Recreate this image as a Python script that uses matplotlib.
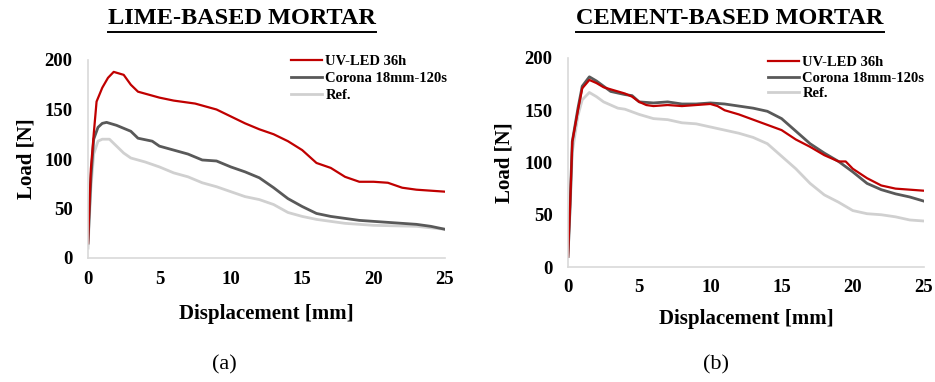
import numpy as np
import matplotlib
matplotlib.use("Agg")
import matplotlib.pyplot as plt
from matplotlib.lines import Line2D

plt.rcParams['font.family'] = ['Liberation Serif', 'DejaVu Serif']
plt.rcParams['font.weight'] = 'bold'

series_names = ["UV-LED 36h", "Corona 18mm-120s", "Ref."]
series_colors = ["#C00000", "#595959", "#D0D0D0"]
series_widths = [1.6, 2.0, 2.0]

# lime-based mortar (panel a)
lime_uv_x = [0, 0.2, 0.4, 0.6, 1.0, 1.4, 1.8, 2.5, 3.0, 3.5, 4.0, 5, 6, 7.5, 9, 10, 11, 12, 13,
             14, 15, 16, 17, 18, 19, 20, 21, 22, 23, 24, 25]
lime_uv_y = [15, 90, 125, 158, 172, 182, 188, 185, 175, 168, 166, 162, 159, 156, 150, 143, 136,
             130, 125, 118, 109, 96, 91, 82, 77, 77, 76, 71, 69, 68, 67]
lime_co_x = [0, 0.2, 0.4, 0.7, 1.0, 1.3, 2.0, 3.0, 3.5, 4.5, 5, 6, 7, 8, 9, 10, 11, 12, 13, 14,
             15, 16, 17, 18, 19, 20, 22, 23, 24, 25]
lime_co_y = [15, 80, 120, 132, 136, 137, 134, 128, 121, 118, 113, 109, 105, 99, 98, 92, 87, 81,
             71, 60, 52, 45, 42, 40, 38, 37, 35, 34, 32, 29]
lime_ref_x = [0, 0.2, 0.4, 0.7, 1.0, 1.5, 2.0, 2.5, 3.0, 4, 5, 6, 7, 8, 9, 10, 11, 12, 13, 14,
              15, 16, 17, 18, 20, 23, 25]
lime_ref_y = [10, 70, 105, 118, 120, 120, 113, 106, 101, 97, 92, 86, 82, 76, 72, 67, 62, 59,
              54, 46, 42, 39, 37, 35, 33, 32, 29]

# cement-based mortar (panel b)
cem_uv_x = [0, 0.15, 0.3, 0.7, 1.0, 1.5, 2.0, 2.5, 3, 4, 4.5, 5, 5.5, 6, 7, 8, 9, 10, 10.5, 11,
            12, 13, 14, 15, 16, 17, 18, 19, 19.5, 20, 21, 22, 23, 24, 25]
cem_uv_y = [10, 60, 120, 150, 171, 179, 176, 172, 170, 166, 163, 158, 155, 154, 155, 154, 155,
            156, 154, 150, 146, 141, 136, 131, 122, 115, 107, 101, 101, 94, 85, 78, 75, 74, 73]
cem_co_x = [0, 0.15, 0.3, 0.7, 1.0, 1.5, 2, 3, 4, 4.5, 5, 6, 7, 8, 9, 10, 11, 12, 13, 14, 15,
            16, 17, 18, 19, 20, 21, 22, 23, 24, 25]
cem_co_y = [10, 60, 120, 152, 173, 182, 178, 168, 165, 164, 158, 157, 158, 156, 156, 157, 156,
            154, 152, 149, 142, 130, 118, 109, 101, 91, 80, 74, 70, 67, 63]
cem_ref_x = [0, 0.15, 0.3, 0.7, 1.0, 1.5, 2, 2.5, 3, 3.5, 4, 5, 6, 7, 8, 9, 10, 11, 12, 13, 14,
             15, 16, 17, 18, 19, 20, 21, 22, 23, 24, 25]
cem_ref_y = [10, 55, 110, 145, 160, 167, 163, 158, 155, 152, 151, 146, 142, 141, 138, 137, 134,
             131, 128, 124, 118, 106, 94, 80, 69, 62, 54, 51, 50, 48, 45, 44]

x_ticks = [0, 5, 10, 15, 20, 25]
y_ticks = [0, 50, 100, 150, 200]

fig = plt.figure(figsize=(9.35, 3.82), dpi=100)
W, H = 935, 382


def px_axes(x0, x1, ytop, ybot):
    return fig.add_axes([x0 / W, 1 - ybot / H, (x1 - x0) / W, (ybot - ytop) / H])


ax_a = px_axes(88, 445, 60, 258)
ax_b = px_axes(568, 924, 58, 267)

panels = [
    (ax_a, [(lime_uv_x, lime_uv_y), (lime_co_x, lime_co_y), (lime_ref_x, lime_ref_y)], 12, 6),
    (ax_b, [(cem_uv_x, cem_uv_y), (cem_co_x, cem_co_y), (cem_ref_x, cem_ref_y)], 9, 7),
]

for ax, data, xlpad, ylpad in panels:
    # draw ref first so the darker lines sit on top
    for i in [2, 1, 0]:
        xs, ys = data[i]
        ax.plot(xs, ys, color=series_colors[i], lw=series_widths[i], label=series_names[i])
    ax.set_xlim(0, 25)
    ax.set_ylim(0, 200)
    ax.set_xticks(x_ticks)
    ax.set_yticks(y_ticks)
    ax.tick_params(length=0, labelsize=13.5)
    ax.tick_params(axis='x', pad=9)
    ax.tick_params(axis='y', pad=11)
    for lab in ax.get_xticklabels() + ax.get_yticklabels():
        lab.set_fontweight('bold')
    for s in ['top', 'right']:
        ax.spines[s].set_visible(False)
    for s in ['left', 'bottom']:
        ax.spines[s].set_color('#D9D9D9')
        ax.spines[s].set_linewidth(1.2)
    ax.set_xlabel("Displacement [mm]", fontsize=15, fontweight='bold', labelpad=xlpad)
    ax.set_ylabel("Load [N]", fontsize=15, fontweight='bold', labelpad=ylpad)

# legends in pixel positions
legend_specs = [(ax_a, 291, 55, 0.26), (ax_b, 768, 56, 0.16)]
for ax, lx, ly, lsp in legend_specs:
    handles, labels = ax.get_legend_handles_labels()
    order = [2, 1, 0]
    ax.legend([handles[k] for k in order], [labels[k] for k in order],
              loc='upper left', bbox_to_anchor=(lx / W, 1 - ly / H),
              bbox_transform=fig.transFigure, frameon=False,
              prop={'size': 10.5, 'weight': 'bold'}, handlelength=2.1,
              handletextpad=0.25, labelspacing=lsp, borderpad=0, borderaxespad=0)

titles = [("LIME-BASED MORTAR", 242), ("CEMENT-BASED MORTAR", 730)]
title_objs = []
for txt, cx in titles:
    t = fig.text(cx / W, 1 - 19 / H, txt, ha='center', va='center',
                 fontsize=17.5, fontweight='bold')
    title_objs.append(t)

fig.text(224 / W, 1 - 365 / H, "(a)", ha='center', va='center', fontsize=16, fontweight='normal')
fig.text(716 / W, 1 - 365 / H, "(b)", ha='center', va='center', fontsize=16, fontweight='normal')

# underline the titles
fig.canvas.draw()
renderer = fig.canvas.get_renderer()
for t in title_objs:
    bb = t.get_window_extent(renderer)
    yline = H - 32
    fig.add_artist(Line2D([bb.x0 / W, bb.x1 / W], [yline / H, yline / H],
                          transform=fig.transFigure, color='black', lw=1.4))

fig.savefig("out.png", dpi=100)
